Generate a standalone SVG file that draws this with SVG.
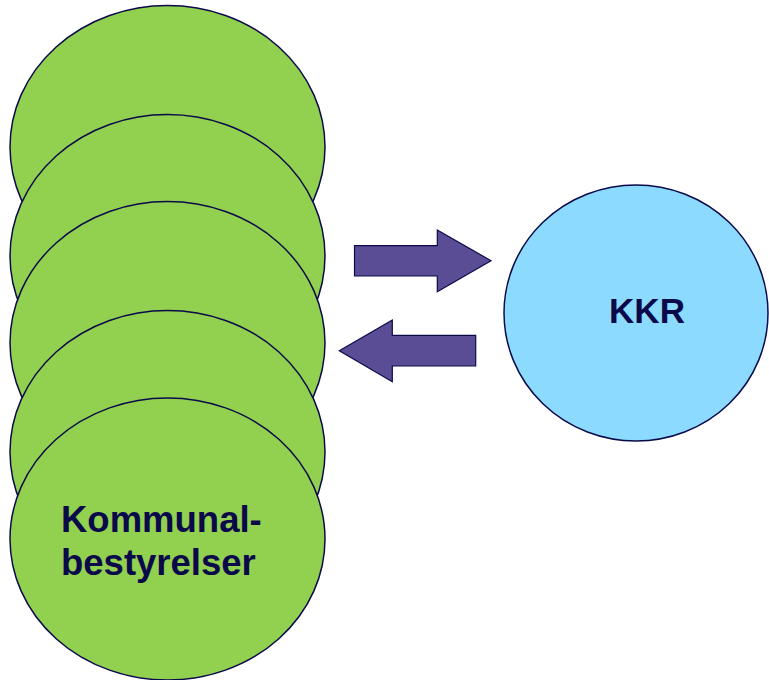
<svg xmlns="http://www.w3.org/2000/svg" width="769" height="680" viewBox="0 0 769 680">
<style>
.g{fill:#92D050;stroke:#0A0A4A;stroke-width:1.5}
.b{fill:#8CDBFF;stroke:#0A0A4A;stroke-width:1.5}
.a{fill:#5A4D96;stroke:#0A0A4A;stroke-width:1.2}
.t{font-family:"Liberation Sans",Arial,sans-serif;font-weight:bold;font-size:35px;fill:#0A0A4A}
.t2{font-size:36.5px}
</style>
<rect width="769" height="680" fill="#fff"/>
<g id="circle1"><ellipse class="g" cx="167.5" cy="147" rx="157.5" ry="141.5"/></g>
<g id="circle2"><ellipse class="g" cx="167.5" cy="256" rx="157.5" ry="141.5"/></g>
<g id="circle3"><ellipse class="g" cx="167.5" cy="343" rx="157.5" ry="141.5"/></g>
<g id="circle4"><ellipse class="g" cx="167.5" cy="452" rx="157.5" ry="141.5"/></g>
<g id="kommunalbestyrelser"><ellipse class="g" cx="167.5" cy="539" rx="157.5" ry="141"/>
<text class="t t2" x="61" y="532">Kommunal-</text>
<text class="t t2" x="61" y="575">bestyrelser</text></g>
<g id="kkr"><ellipse class="b" cx="636" cy="313" rx="132" ry="128"/>
<text class="t" x="647" y="323" text-anchor="middle">KKR</text></g>
<g id="connectors">
<polygon class="a" points="354.5,245.7 437.3,245.7 437.3,230 491,260.7 437.3,291.7 437.3,276 354.5,276"/>
<polygon class="a" points="475.7,335.3 392.3,335.3 392.3,320 339.3,350.7 392.3,381.7 392.3,366 475.7,366"/>
</g>
</svg>
